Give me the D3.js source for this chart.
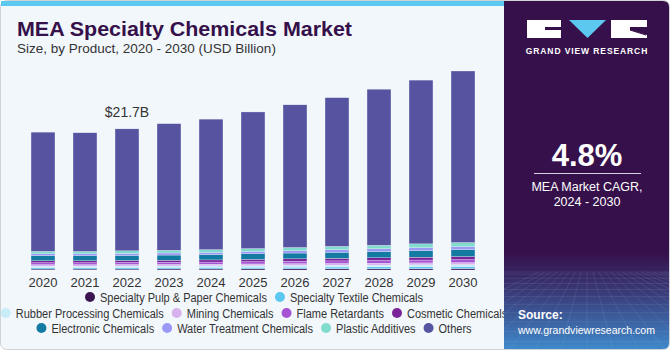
<!DOCTYPE html>
<html>
<head>
<meta charset="utf-8">
<script src="https://cdn.jsdelivr.net/npm/d3@7"></script>
<style>
  html, body { margin: 0; padding: 0; background: #ffffff; }
  svg { display: block; font-family: "Liberation Sans", Arial, sans-serif; }
</style>
</head>
<body>
<div id="chart"></div>
<script>
// ==========================================
// DATA (USD Billion)
// ==========================================
const years = ["2020","2021","2022","2023","2024","2025","2026","2027","2028","2029","2030"];

const pulpPaper   = [0.15,0.15,0.15,0.16,0.16,0.17,0.18,0.19,0.20,0.21,0.23];
const textile     = [0.22,0.22,0.23,0.23,0.24,0.25,0.26,0.27,0.28,0.29,0.30];
const rubber      = [0.22,0.22,0.23,0.23,0.24,0.25,0.26,0.27,0.28,0.29,0.30];
const mining      = [0.23,0.23,0.24,0.24,0.25,0.26,0.27,0.28,0.29,0.30,0.31];
const flame       = [0.30,0.30,0.31,0.32,0.33,0.35,0.37,0.39,0.41,0.44,0.46];
const cosmetic    = [0.30,0.30,0.31,0.32,0.33,0.35,0.37,0.39,0.41,0.44,0.46];
const electronic  = [0.77,0.76,0.78,0.80,0.82,0.86,0.90,0.94,0.98,1.03,1.08];
const water       = [0.30,0.30,0.31,0.32,0.33,0.35,0.37,0.39,0.41,0.44,0.46];
const plastic     = [0.38,0.38,0.39,0.41,0.43,0.45,0.48,0.51,0.54,0.58,0.62];
const others      = [18.33,18.24,18.75,19.47,20.07,21.01,21.94,22.87,24.00,25.18,26.38];

const seriesNames = [
  "Specialty Pulp & Paper Chemicals", "Specialty Textile Chemicals",
  "Rubber Processing Chemicals", "Mining Chemicals", "Flame Retardants",
  "Cosmetic Chemicals", "Electronic Chemicals", "Water Treatment Chemicals",
  "Plastic Additives", "Others"
];
const seriesValues = [pulpPaper, textile, rubber, mining, flame, cosmetic, electronic, water, plastic, others];
const colors = ["#3b1550","#5cc8ef","#c9ecf9","#d8b2ec","#a653d6","#7b2398","#137aa1","#9c98f5","#80dccc","#5653a1"];

const legendRows = [[0,1],[2,3,4,5],[6,7,8,9]];
const highlight = { year: "2022", label: "$21.7B" };

// ==========================================
// LAYOUT
// ==========================================
const W = 670, H = 350;
const panelX = 504;
const base = 270;

const svg = d3.select("#chart").append("svg").attr("width", W).attr("height", H);
const defs = svg.append("defs");

// card
svg.append("rect").attr("x",0.5).attr("y",0.5).attr("width",W-1).attr("height",H-1)
   .attr("rx",6).attr("fill","#f2f7fb").attr("stroke","#cfd3d6");
svg.append("rect").attr("x",1).attr("y",1).attr("width",panelX-1).attr("height",5).attr("fill","#5cc8ef");

// title
svg.append("text").attr("x",17).attr("y",36).text("MEA Specialty Chemicals Market")
   .attr("font-size",21).attr("font-weight",900).attr("fill","#35104a")
   .attr("textLength",335).attr("lengthAdjust","spacingAndGlyphs");
svg.append("text").attr("x",17).attr("y",53).text("Size, by Product, 2020 - 2030 (USD Billion)")
   .attr("font-size",13.5).attr("fill","#333");

// ==========================================
// BARS
// ==========================================
const table = years.map((y,i) => {
  const row = { year: y };
  seriesNames.forEach((n,k) => row[n] = seriesValues[k][i]);
  return row;
});
const stacked = d3.stack().keys(seriesNames)(table);

const x = d3.scaleBand().domain(years).range([22, 484]).paddingInner(0.43).paddingOuter(0.215);
const y = d3.scaleLinear().domain([0, 30.6]).range([base, 71]);

const g = svg.append("g");
g.selectAll("g.layer").data(stacked).join("g")
  .attr("class","layer").attr("fill",(d,i)=>colors[i])
  .selectAll("rect").data(d=>d).join("rect")
  .attr("x", d => x(d.data.year))
  .attr("y", d => y(d[1]))
  .attr("width", x.bandwidth())
  .attr("height", d => Math.max(0, y(d[0]) - y(d[1])))
  .attr("stroke","#eef0fa").attr("stroke-width",0.3);

// axis labels
const xAxis = svg.append("g").attr("transform",`translate(0,${base})`)
  .call(d3.axisBottom(x).tickSize(0).tickPadding(8));
xAxis.select(".domain").remove();
xAxis.selectAll("text").attr("font-size",13).attr("fill","#333").attr("font-family","Liberation Sans, Arial, sans-serif");

// value label
const total = years.map((yr,i) => d3.sum(seriesValues, s => s[i]));
const hi = years.indexOf(highlight.year);
svg.append("text").attr("x", x(highlight.year) + x.bandwidth()/2).attr("y", y(total[hi]) - 12)
   .attr("text-anchor","middle").attr("font-size",14).attr("fill","#333").text(highlight.label);

// ==========================================
// LEGEND
// ==========================================
const legendY = [297, 313, 328];
legendRows.forEach((row, r) => {
  const lg = svg.append("g");
  let cx = 0;
  row.forEach(k => {
    const item = lg.append("g").attr("transform",`translate(${cx},0)`);
    item.append("circle").attr("cx",5).attr("cy",0).attr("r",5).attr("fill",colors[k]);
    const t = item.append("text").attr("x",15).attr("y",4.5).attr("font-size",12.5)
      .attr("fill","#333").text(seriesNames[k]);
    const w = t.node().getComputedTextLength() * 0.88;
    t.attr("textLength", w).attr("lengthAdjust","spacingAndGlyphs");
    cx += 15 + w + 8;
  });
  const rowW = cx - 8;
  lg.attr("transform",`translate(${254 - rowW/2},${legendY[r]})`);
});

// ==========================================
// RIGHT PANEL
// ==========================================
const grad = defs.append("linearGradient").attr("id","pgrad").attr("x1",0).attr("y1",0).attr("x2",0).attr("y2",1);
grad.append("stop").attr("offset","0%").attr("stop-color","#36104a");
grad.append("stop").attr("offset","72%").attr("stop-color","#36104a");
grad.append("stop").attr("offset","84%").attr("stop-color","#3a3c7a");
grad.append("stop").attr("offset","100%").attr("stop-color","#3f8acb");
defs.append("clipPath").attr("id","pclip").append("path")
  .attr("d",`M${panelX},1 H${W-7} Q${W-1},1 ${W-1},7 V${H-7} Q${W-1},${H-1} ${W-7},${H-1} H${panelX} Z`);

const p = svg.append("g").attr("clip-path","url(#pclip)");
p.append("rect").attr("x",panelX).attr("y",0).attr("width",W-panelX).attr("height",H).attr("fill","url(#pgrad)");

// perspective grid at the bottom
const grid = p.append("g").attr("stroke","#9fc4ea").attr("stroke-opacity",0.22).attr("stroke-width",0.6).attr("fill","none");
d3.range(0, 14).forEach(i => {
  const yy = 272 + Math.pow(i,1.5)*2.2;
  grid.append("line").attr("x1",panelX).attr("x2",W).attr("y1",yy).attr("y2",yy);
});
d3.range(-8, 20).forEach(i => {
  grid.append("line").attr("x1", 587 + i*6).attr("y1",272).attr("x2", 587 + i*26).attr("y2",H);
});

// logo
const logo = svg.append("g");
logo.append("path").attr("fill","#fff")
  .attr("d","M527,20 H561 V27 H545 V30 H561 V38 H527 Z");
logo.append("path").attr("fill","#5cc8ef").attr("d","M569,20 H606 L587.5,38 Z");
logo.append("path").attr("fill","#fff").attr("d","M611,20 H647 V27 H630 V30 L647,35 V38 H611 Z");
logo.append("line").attr("x1",630).attr("y1",30).attr("x2",646).attr("y2",35).attr("stroke","#36104a").attr("stroke-width",1);

const pt = svg.append("g").attr("fill","#fff");
pt.append("text").attr("x",587).attr("y",54).attr("text-anchor","middle")
  .attr("font-size",8.5).attr("font-weight",700).attr("letter-spacing",0.9).text("GRAND VIEW RESEARCH");
pt.append("text").attr("x",587).attr("y",166).attr("text-anchor","middle")
  .attr("font-size",31).attr("font-weight",700).text("4.8%");
svg.append("line").attr("x1",534).attr("x2",641).attr("y1",173.5).attr("y2",173.5).attr("stroke","#d8cfe0").attr("stroke-width",1);
pt.append("text").attr("x",587).attr("y",191).attr("text-anchor","middle")
  .attr("font-size",12.5).text("MEA Market CAGR,");
pt.append("text").attr("x",587).attr("y",206).attr("text-anchor","middle")
  .attr("font-size",12.5).text("2024 - 2030");
pt.append("text").attr("x",518).attr("y",319).attr("font-size",12).attr("font-weight",700).text("Source:");
pt.append("text").attr("x",518).attr("y",334).attr("font-size",11.5)
  .attr("textLength",137).attr("lengthAdjust","spacingAndGlyphs").text("www.grandviewresearch.com");
</script>
</body>
</html>
